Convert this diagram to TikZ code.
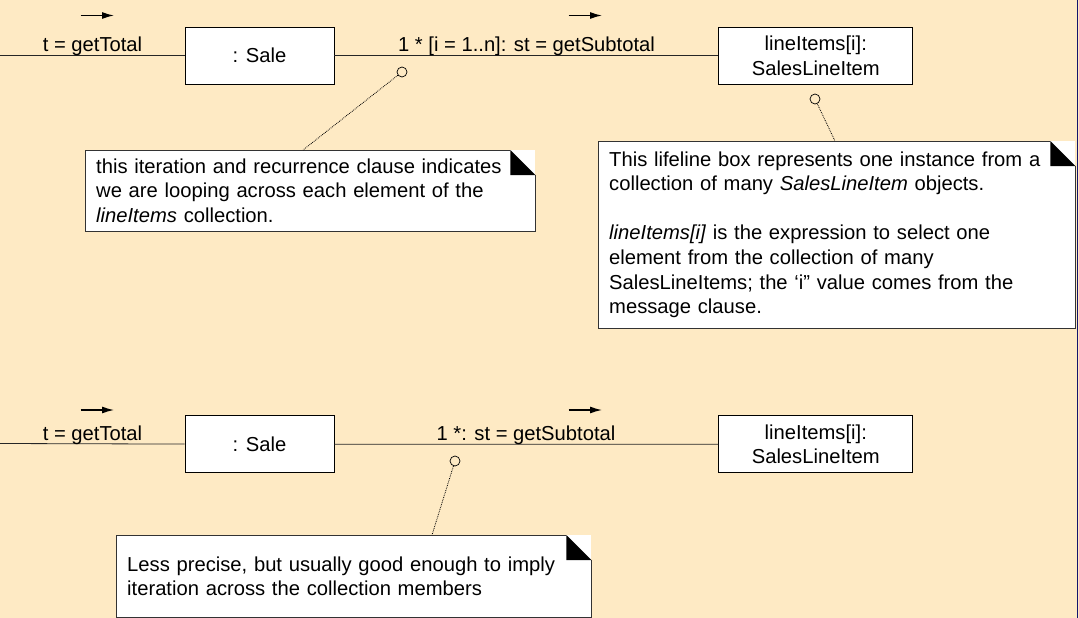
\documentclass[tikz,border=0pt]{standalone}
\usepackage{fontspec}
\setmainfont{Liberation Sans}
\usetikzlibrary{arrows.meta}
\usetikzlibrary{positioning}
\definecolor{slidebg}{RGB}{254,234,196}
\definecolor{slideedge}{RGB}{20,20,110}

\begin{document}
\begin{tikzpicture}[x=1pt,y=-1pt,font=\fontsize{20.2}{24.6}\selectfont,
  obj/.style={draw,fill=white,line width=0.8pt,minimum width=149pt,minimum height=57pt,align=center,inner sep=0pt},
  items/.style={obj,minimum width=194pt},
  msg/.style={anchor=base,inner sep=0pt},
  link/.style={draw=black!85,line width=0.8pt},
  dir/.style={-{Latex[length=12pt,width=7pt]},line width=1.3pt},
  notebox/.style={fill=white,align=left,anchor=north west,inner xsep=11pt,inner ysep=0pt},
  notedot/.style={draw,circle,inner sep=0pt,minimum size=10pt,line width=0.7pt},
  noteline/.style={densely dotted,line width=0.8pt}]
\fill[slidebg] (0,0) rectangle (1079,618);
\useasboundingbox (0,0) rectangle (1079,618);
\draw[slideedge,line width=1.2pt] (1077.5,0) -- (1077.5,618);

% top diagram
\node[obj] (sale1) at (259.5,55.5) {: Sale};
\node[items,right=384pt of sale1] (items1) {lineItems[i]:\\SalesLineItem};
\coordinate (in1) at (0,55.5);
\draw[link] (in1) -- (sale1) -- (items1);
\node[msg] (call1) at (92.5,52) {t = getTotal};
\node[msg] (call2) at (526.5,52) {1 * [i = 1..n]: st = getSubtotal};

% bottom diagram
\node[obj,below=331pt of sale1] (sale2) {: Sale};
\node[items,right=384pt of sale2] (items2) {lineItems[i]:\\SalesLineItem};
\coordinate (in2) at (0,443.5);
\draw[link] (in2) -- (sale2) -- (items2);
\node[msg] (call3) at (92.5,440) {t = getTotal};
\node[msg] (call4) at (526,440) {1 *: st = getSubtotal};

\foreach \x/\y in {80.5/15.5,568.5/15.5,80.5/410,568.5/410}
  \draw[dir] (\x,\y) -- ++(33.5,0);

% notes
\node[notebox,text width=428pt,minimum height=81pt] (note1) at (85,150)
  {this iteration and recurrence clause indicates\\we are looping across each element of the\\\textit{lineItems} collection.};
\node[notebox,text width=455pt,minimum height=187pt] (note2) at (598,141)
  {This lifeline box represents one instance from a\\collection of many \textit{SalesLineItem} objects.\\[24.6pt]\textit{lineItems[i]} is the expression to select one\\element from the collection of many\\SalesLineItems; the ‘i” value comes from the\\message clause.};
\node[notebox,text width=453pt,minimum height=82pt] (note3) at (116,535)
  {Less precise, but usually good enough to imply\\iteration across the collection members};
\foreach \n in {note1,note2,note3}{
  \draw[black!80,line width=0.8pt] ([xshift=-25pt]\n.north east) -- (\n.north west) -- (\n.south west) -- (\n.south east) -- ([yshift=-25pt]\n.north east);
  \fill ([xshift=-25pt]\n.north east) -- ++(0pt,-25pt) -- ++(25pt,0pt) -- cycle;
}

\node[notedot] (d1) at (402,72) {};
\node[notedot] (d2) at (815,99) {};
\node[notedot] (d3) at (455,461) {};
\coordinate (t1) at (303,150);
\coordinate (t2) at (835,141);
\coordinate (t3) at (432,535);
\draw[noteline] (d1) -- (t1);
\draw[noteline] (d2) -- (t2);
\draw[noteline] (d3) -- (t3);
\end{tikzpicture}
\end{document}
